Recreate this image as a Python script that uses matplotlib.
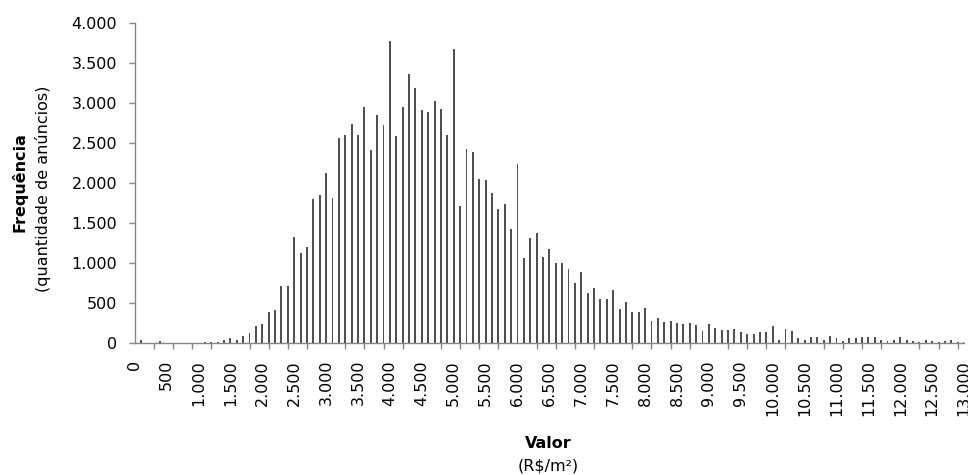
import numpy as np
import matplotlib
matplotlib.use("Agg")
import matplotlib.pyplot as plt

# class labels (R$/m2), bins of 100
valor = list(range(0, 13001, 100))

# frequency per class
frequencia = [
    0, 42, 5, 5, 25, 3, 3, 3, 3, 5,
    8, 12, 12, 17, 42, 62, 42, 92, 125, 218,
    245, 392, 420, 720, 720, 1325, 1125, 1200, 1804, 1852,
    2125, 1820, 2570, 2600, 2742, 2600, 2948, 2408, 2850, 2725,
    3775, 2583, 2948, 3360, 3187, 2916, 2887, 3029, 2920, 2600,
    3679, 1712, 2425, 2391, 2058, 2041, 1875, 1679, 1741, 1425,
    2237, 1062, 1312, 1379, 1075, 1183, 997, 1000, 933, 758,
    888, 629, 696, 554, 554, 662, 425, 521, 392, 392,
    442, 283, 317, 262, 279, 250, 240, 258, 225, 158,
    242, 194, 160, 160, 175, 142, 112, 118, 135, 144,
    221, 46, 175, 158, 65, 46, 79, 79, 46, 96,
    62, 31, 62, 62, 79, 79, 79, 46, 31, 38,
    79, 46, 25, 15, 46, 31, 17, 31, 46, 15,
    15,
]

y_ticks = [0, 500, 1000, 1500, 2000, 2500, 3000, 3500, 4000]

def fmt(v):
    return f"{v:,}".replace(",", ".")

plt.rcParams['font.family'] = ['DejaVu Sans']
gray = '#868686'

fig = plt.figure(figsize=(9.68, 4.75), dpi=100)
ax = fig.add_axes([134.7/968, 1 - 343.3/475, 829.4/968, 320.3/475])

pos = np.arange(len(valor))
ax.bar(pos, frequencia, width=0.3, color='#505050', linewidth=0)

ax.set_xlim(0, len(valor) - 1)
ax.set_ylim(0, 4000)

# labels every 5 classes, tick marks every 3 classes
ax.set_xticks(pos[::5])
ax.set_xticklabels([fmt(v) for v in valor[::5]], rotation=90, fontsize=11.5)
ax.set_xticks(pos[::3], minor=True)
ax.tick_params(axis='x', which='major', length=0, pad=12)
ax.tick_params(axis='x', which='minor', length=4.5, width=1, color=gray, direction='out')

ax.set_yticks(y_ticks)
ax.set_yticklabels([fmt(v) for v in y_ticks], fontsize=11.5)
ax.tick_params(axis='y', length=4.5, width=1, color=gray, direction='out', pad=8)

for s in ['top', 'right']:
    ax.spines[s].set_visible(False)
for s in ['left', 'bottom']:
    ax.spines[s].set_color(gray)
    ax.spines[s].set_linewidth(1)

fig.text(20/968, 1 - 182/475, 'Frequência', rotation=90, ha='center', va='center',
         fontsize=11.5, fontweight='bold')
fig.text(43/968, 1 - 189/475, '(quantidade de anúncios)', rotation=90, ha='center',
         va='center', fontsize=11.5)
fig.text(548/968, 1 - 443/475, 'Valor', ha='center', va='center',
         fontsize=11.5, fontweight='bold')
fig.text(548/968, 1 - 466/475, '(R$/m²)', ha='center', va='center', fontsize=11.5)

fig.savefig('out.png', dpi=100)
